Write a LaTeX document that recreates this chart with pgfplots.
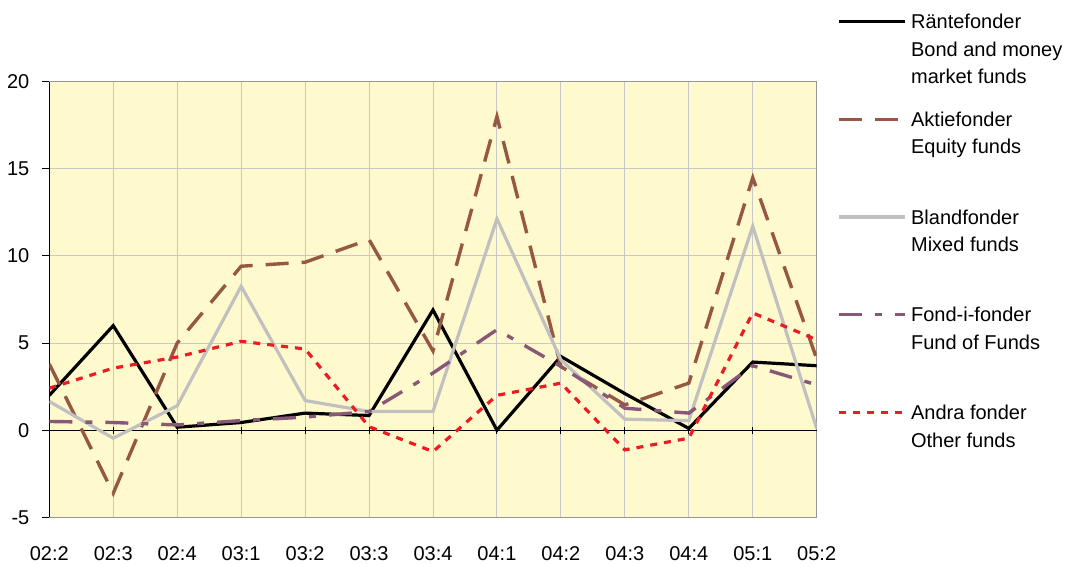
\documentclass[border=0pt]{standalone}
\usepackage{pgfplots}
\pgfplotsset{compat=1.18}
\usepackage{fontspec}
\setmainfont{Liberation Sans}
\definecolor{bgyellow}{RGB}{255,250,205}
\definecolor{gridgray}{RGB}{200,200,200}
\definecolor{framegray}{RGB}{150,150,150}
\definecolor{cbrown}{RGB}{150,88,66}
\definecolor{cgray}{RGB}{192,192,192}
\definecolor{cpurple}{RGB}{137,88,120}
\definecolor{cred}{RGB}{237,28,36}
\newcommand{\lentry}[1]{\parbox[t]{100pt}{\raggedright\strut #1\strut}}
\begin{document}
\begin{tikzpicture}
\begin{axis}[
  scale only axis,
  width=383.7pt, height=217.8pt,
  xmin=0, xmax=12, ymin=-5, ymax=20,
  xtick={0,...,12},
  xticklabels={02:2,02:3,02:4,03:1,03:2,03:3,03:4,04:1,04:2,04:3,04:4,05:1,05:2},
  ytick={-5,0,5,10,15,20},
  tick pos=left,
  tick align=center,
  major tick length=3.5pt,
  xtick style={black, line width=0.5pt, yshift=43.56pt},
  ytick style={black, line width=0.5pt, xshift=-1.75pt},
  xticklabel style={yshift=-9.3pt},
  yticklabel style={xshift=-4.7pt},
  tick label style={font=\fontsize{10}{12}\selectfont},
  /pgf/number format/assume math mode=true,
  grid=major,
  major grid style={gridgray, line width=0.5pt},
  axis line style={framegray, line width=0.6pt},
  axis background/.style={fill=bgyellow},
  extra x ticks={0},
  extra x tick labels={},
  extra x tick style={grid=major, major grid style={black, line width=0.6pt}, major tick length=0pt},
  extra y ticks={0},
  extra y tick labels={},
  extra y tick style={grid=major, major grid style={black, line width=0.5pt}, major tick length=0pt},
  legend style={at={(1.0261,1.1667)}, anchor=north west, draw=none, fill=none,
    inner sep=0pt, column sep=0pt, row sep=37.75pt,
    font=\fontsize{10}{13.75}\selectfont,
    nodes={inner ysep=0pt, inner xsep=2.3pt, anchor=base west}},
  legend cell align=left,
  legend image code/.code={\draw[#1] (0pt,3.6pt) -- (33pt,3.6pt);},
]
\addplot[black, line width=1.6pt] coordinates {
(0,2.0) (1,6.0) (2,0.17) (3,0.44) (4,0.98) (5,0.84) (6,6.9) (7,0.0) (8,4.23) (9,2.1) (10,0.1) (11,3.91) (12,3.70)};
\addlegendentry{\lentry{Räntefonder\\Bond and money\\market funds}}
\addplot[cbrown, line width=1.7pt, dash pattern=on 11.5pt off 6.5pt] coordinates {
(0,3.8) (1,-3.62) (2,5.0) (3,9.41) (4,9.64) (5,10.94) (6,4.55) (7,18.0) (8,3.65) (9,1.45) (10,2.7) (11,14.49) (12,4.1)};
\addlegendentry{\lentry{Aktiefonder\\Equity funds}}
\addplot[cgray, line width=1.6pt] coordinates {
(0,1.65) (1,-0.46) (2,1.4) (3,8.26) (4,1.7) (5,1.07) (6,1.07) (7,12.13) (8,4.04) (9,0.63) (10,0.55) (11,11.71) (12,0.1)};
\addlegendentry{\lentry{Blandfonder\\Mixed funds}}
\addplot[cpurple, line width=1.7pt, dash pattern=on 11.5pt off 6.5pt on 3.5pt off 6.5pt] coordinates {
(0,0.5) (1,0.44) (2,0.3) (3,0.55) (4,0.75) (5,1.07) (6,3.28) (7,5.77) (8,3.66) (9,1.26) (10,0.98) (11,3.7) (12,2.6)};
\addlegendentry{\lentry{Fond-i-fonder\\Fund of Funds}}
\addplot[cred, line width=1.6pt, dash pattern=on 3.5pt off 3.5pt] coordinates {
(0,2.41) (1,3.56) (2,4.2) (3,5.1) (4,4.66) (5,0.2) (6,-1.23) (7,2.0) (8,2.7) (9,-1.13) (10,-0.46) (11,6.73) (12,5.19)};
\addlegendentry{\lentry{Andra fonder\\Other funds}}
\end{axis}
\pgfresetboundingbox
\path (-24.65pt,-22.85pt) rectangle (508.35pt,258.65pt);
\end{tikzpicture}
\end{document}
